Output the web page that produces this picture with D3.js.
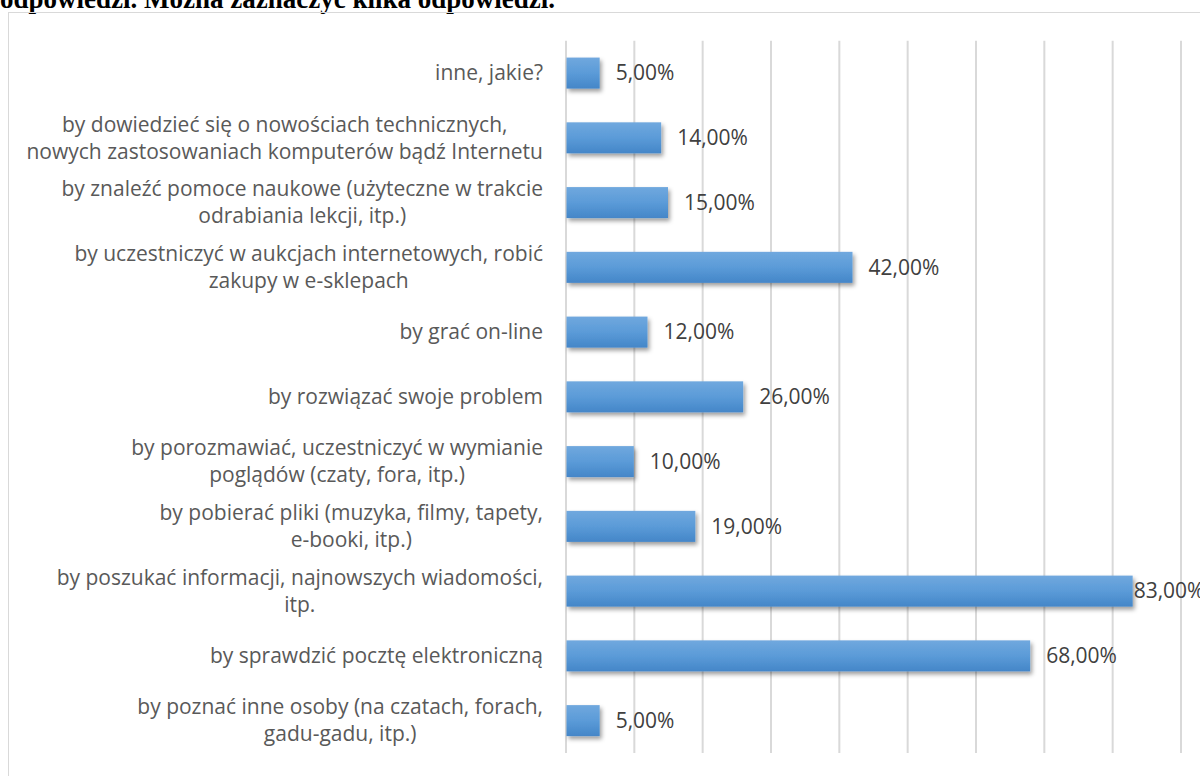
<!DOCTYPE html>
<html>
<head>
<meta charset="utf-8">
<script src="https://cdn.jsdelivr.net/npm/d3@7"></script>
<style>
  html, body { margin: 0; padding: 0; background: #fff; }
  svg { display: block; }
</style>
</head>
<body>
<svg id="chart" width="1200" height="776"></svg>
<script>
const titleText = "odpowiedzi. Można zaznaczyć kilka odpowiedzi.";
const categories = [
  ["inne, jakie?"],
  ["by dowiedzieć się o nowościach technicznych,", "nowych zastosowaniach komputerów bądź Internetu"],
  ["by znaleźć pomoce naukowe (użyteczne w trakcie", "odrabiania lekcji, itp.)"],
  ["by uczestniczyć w aukcjach internetowych, robić", "zakupy w e-sklepach"],
  ["by grać on-line"],
  ["by rozwiązać swoje problem"],
  ["by porozmawiać, uczestniczyć w wymianie", "poglądów (czaty, fora, itp.)"],
  ["by pobierać pliki (muzyka, filmy, tapety,", "e-booki, itp.)"],
  ["by poszukać informacji, najnowszych wiadomości,", "itp."],
  ["by sprawdzić pocztę elektroniczną"],
  ["by poznać inne osoby (na czatach, forach,", "gadu-gadu, itp.)"]
];
const values = [0.05, 0.14, 0.15, 0.42, 0.12, 0.26, 0.10, 0.19, 0.83, 0.68, 0.05];
const xTicks = [0, 0.1, 0.2, 0.3, 0.4, 0.5, 0.6, 0.7, 0.8, 0.9];

const W = 1200, H = 776;
const svg = d3.select("#chart");
const font = "'Open Sans', Lato, sans-serif";

// defs: gradient + shadow
const defs = svg.append("defs");
const grad = defs.append("linearGradient").attr("id", "barGrad")
  .attr("x1", 0).attr("y1", 0).attr("x2", 0).attr("y2", 1);
grad.append("stop").attr("offset", "0%").attr("stop-color", "#70a8de");
grad.append("stop").attr("offset", "50%").attr("stop-color", "#5b9bd8");
grad.append("stop").attr("offset", "100%").attr("stop-color", "#4486c8");
const f = defs.append("filter").attr("id", "shadow")
  .attr("x", "-10%").attr("y", "-20%").attr("width", "130%").attr("height", "160%");
f.append("feDropShadow").attr("dx", 2).attr("dy", 3).attr("stdDeviation", 2)
  .attr("flood-color", "#000").attr("flood-opacity", 0.38);

// title (partially cut off at the top, as in the reference)
svg.append("text")
  .attr("x", 0).attr("y", 8)
  .attr("font-family", "'Liberation Serif', 'Times New Roman', serif")
  .attr("font-weight", "bold")
  .attr("font-size", 27)
  .attr("fill", "#000")
  .text(titleText);

// chart border
svg.append("rect")
  .attr("x", 8.5).attr("y", 12.5)
  .attr("width", W + 20).attr("height", H + 20)
  .attr("fill", "none").attr("stroke", "#d9d9d9").attr("stroke-width", 1);

const x = d3.scaleLinear().domain([0, 0.9]).range([565.5, 1180.5]);
const y = d3.scaleBand().domain(d3.range(categories.length))
  .range([40.7, 753]).paddingInner(0.521).paddingOuter(0.2605);

// gridlines via axis
const gridAxis = d3.axisBottom(x).tickValues(xTicks).tickSize(-(753 - 40.7)).tickFormat("");
const g = svg.append("g").attr("transform", "translate(0,753)").call(gridAxis);
g.select(".domain").remove();
g.selectAll(".tick line").attr("stroke", "#d9d9d9").attr("stroke-width", 2);

// bars
svg.append("g").selectAll("rect").data(values).join("rect")
  .attr("x", x(0) + 1)
  .attr("y", (d, i) => y(i))
  .attr("width", d => x(d) - x(0) - 1)
  .attr("height", y.bandwidth())
  .attr("fill", "url(#barGrad)")
  .attr("filter", "url(#shadow)");

// value labels
const fmt = v => d3.format(".2f")(v * 100).replace(".", ",") + "%";
const vl = svg.append("g").selectAll("text").data(values).join("text")
  .attr("y", (d, i) => y(i) + y.bandwidth() / 2)
  .attr("dy", "0.35em")
  .attr("font-family", font).attr("font-size", 21)
  .attr("fill", "#404040")
  .text(d => fmt(d));
vl.each(function(d) {
  const w = this.getComputedTextLength();
  const pos = Math.min(x(d) + 16, W - w);
  d3.select(this).attr("x", Math.max(pos, x(d) + 1));
});

// category labels
const lineH = 27;
const labelRight = 543;
const cg = svg.append("g");
categories.forEach((lines, i) => {
  const cy = y(i) + y.bandwidth() / 2;
  const t = cg.append("text")
    .attr("font-family", font).attr("font-size", 21)
    .attr("fill", "#595959").attr("text-anchor", "middle");
  lines.forEach((ln, j) => {
    t.append("tspan").attr("y", cy + (j - (lines.length - 1) / 2) * lineH).attr("dy", "0.35em").text(ln);
  });
  let maxW = 0;
  t.selectAll("tspan").each(function() { maxW = Math.max(maxW, this.getComputedTextLength()); });
  t.selectAll("tspan").attr("x", labelRight - maxW / 2);
});
</script>
</body>
</html>
